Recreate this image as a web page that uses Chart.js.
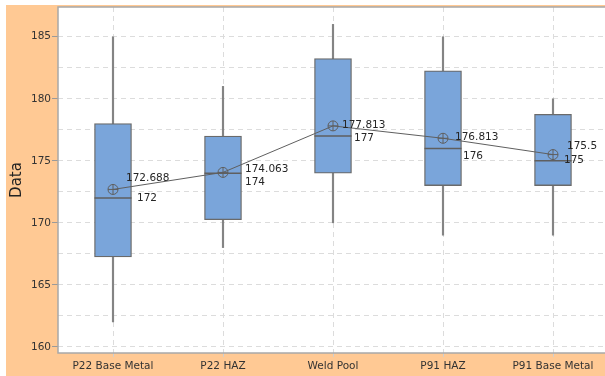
<!DOCTYPE html>
<html>
<head>
<meta charset="utf-8">
<script src="https://cdn.jsdelivr.net/npm/chart.js@4.4.1/dist/chart.umd.min.js"></script>
<style>
  html, body { margin: 0; padding: 0; background: #fff; overflow: hidden; }
  #wrap { position: absolute; left: 6px; top: 5px; }
</style>
</head>
<body>
<div id="wrap"><canvas id="boxChart" width="610" height="371"></canvas></div>
<script>
// ===== data =====
const categories = ['P22 Base Metal', 'P22 HAZ', 'Weld Pool', 'P91 HAZ', 'P91 Base Metal'];
const whiskerLow  = [162, 168, 170, 169, 169];
const q1          = [167.25, 170.25, 174, 173, 173];
const medians     = [172, 174, 177, 176, 175];
const q3          = [178, 177, 183.25, 182.25, 178.75];
const whiskerHigh = [185, 181, 186, 185, 180];
const means       = [172.688, 174.063, 177.813, 176.813, 175.5];
const yTickLabels = [160, 165, 170, 175, 180, 185];

// label nudges (px) so mean / median texts don't collide
const meanDx = [13, 22, 9, 12, 14];
const meanDy = [-11, -3, -1, -1, -8];
const medDx  = [24, 22, 21, 20, 11];
const medDy  = [0, 9, 2, 8, -1];

const FONT = '"DejaVu Sans", Tahoma, sans-serif';
const GRAY = '#5f5f5f';

// orange backdrop, white plot panel, grey frame
const panelPlugin = {
    id: 'panel',
    beforeDraw(chart) {
        const { ctx, chartArea: a } = chart;
        ctx.save();
        ctx.fillStyle = '#ffc994';
        ctx.fillRect(0, 0, chart.width, chart.height);
        ctx.fillStyle = '#ffffff';
        ctx.fillRect(a.left, a.top, a.right - a.left, a.bottom - a.top);
        ctx.restore();
    },
    afterDraw(chart) {
        const { ctx, chartArea: a } = chart;
        ctx.save();
        ctx.strokeStyle = '#a8a8a8';
        ctx.lineWidth = 1.5;
        ctx.strokeRect(a.left, a.top, a.right - a.left, a.bottom - a.top);
        ctx.restore();
    }
};

// mean and median value texts beside each box
const valueLabels = {
    id: 'valueLabels',
    afterDatasetsDraw(chart) {
        const { ctx, scales: { x, y } } = chart;
        ctx.save();
        ctx.font = '10.5px ' + FONT;
        ctx.fillStyle = '#262626';
        ctx.textBaseline = 'middle';
        ctx.textAlign = 'left';
        categories.forEach((c, i) => {
            const px = x.getPixelForValue(i);
            ctx.fillText(String(means[i]), px + meanDx[i], y.getPixelForValue(means[i]) + meanDy[i]);
            ctx.fillText(String(medians[i]), px + medDx[i], y.getPixelForValue(medians[i]) + medDy[i]);
        });
        ctx.restore();
    }
};

// gridlines every 2.5, labels every 5
const gridValues = [];
for (let v = 160; v <= 185; v += 2.5) gridValues.push(v);

new Chart(document.getElementById('boxChart'), {
    type: 'bar',
    data: {
        labels: categories,
        datasets: [
            {
                label: 'whisker',
                data: whiskerLow.map((v, i) => [v, whiskerHigh[i]]),
                backgroundColor: '#848484',
                borderWidth: 0,
                barThickness: 1.5,
                order: 5
            },
            {
                label: 'box',
                data: q1.map((v, i) => [v, q3[i]]),
                backgroundColor: '#7aa5da',
                borderColor: '#6a6a6a',
                borderWidth: 1.3,
                borderSkipped: false,
                barThickness: 37,
                order: 4
            },
            {
                type: 'line',
                label: 'median',
                data: medians,
                showLine: false,
                pointStyle: 'line',
                pointRadius: 18.5,
                pointBorderWidth: 1.5,
                pointBorderColor: GRAY,
                order: 3
            },
            {
                type: 'line',
                label: 'mean',
                data: means,
                borderColor: GRAY,
                borderWidth: 1,
                pointStyle: 'circle',
                pointRadius: 5,
                pointBackgroundColor: 'rgba(0,0,0,0)',
                pointBorderColor: GRAY,
                pointBorderWidth: 1,
                order: 2
            },
            {
                type: 'line',
                label: 'meanCross',
                data: means,
                showLine: false,
                pointStyle: 'cross',
                pointRadius: 5,
                pointBorderColor: GRAY,
                pointBorderWidth: 1,
                order: 1
            }
        ]
    },
    options: {
        responsive: false,
        animation: false,
        events: [],
        grouped: false,
        layout: { autoPadding: false, padding: { left: 0, top: 2, right: 8, bottom: 0 } },
        plugins: { legend: { display: false }, tooltip: { enabled: false } },
        scales: {
            x: {
                offset: true,
                grid: {
                    offset: false,
                    color: '#dcdcdc',
                    lineWidth: 1,
                    tickLength: 4,
                    tickColor: '#cfcfcf'
                },
                border: { display: false, dash: [5, 4] },
                ticks: { color: '#333', padding: 3, font: { family: FONT, size: 10.5 } },
                afterFit(axis) {
                    axis.height = 23;
                    axis.paddingLeft = 0;
                    axis.paddingRight = 0;
                }
            },
            y: {
                min: 159.5,
                max: 187.4,
                afterBuildTicks(axis) { axis.ticks = gridValues.map(v => ({ value: v })); },
                grid: {
                    color: '#dcdcdc',
                    lineWidth: 1,
                    tickLength: 6,
                    tickColor: ctx => (yTickLabels.includes(ctx.tick.value) ? '#9a9a9a' : 'rgba(0,0,0,0)')
                },
                border: { display: false, dash: [5, 4] },
                ticks: {
                    color: '#333',
                    padding: 1,
                    autoSkip: false,
                    font: { family: FONT, size: 10.5 },
                    callback: v => (yTickLabels.includes(v) ? String(v) : '')
                },
                title: {
                    display: true,
                    text: 'Data',
                    color: '#222',
                    padding: { top: 2, bottom: 0 },
                    font: { family: FONT, size: 15 }
                },
                afterFit(axis) {
                    axis.width = 52;
                    axis.paddingTop = 0;
                    axis.paddingBottom = 0;
                }
            }
        }
    },
    plugins: [panelPlugin, valueLabels]
});
</script>
</body>
</html>
